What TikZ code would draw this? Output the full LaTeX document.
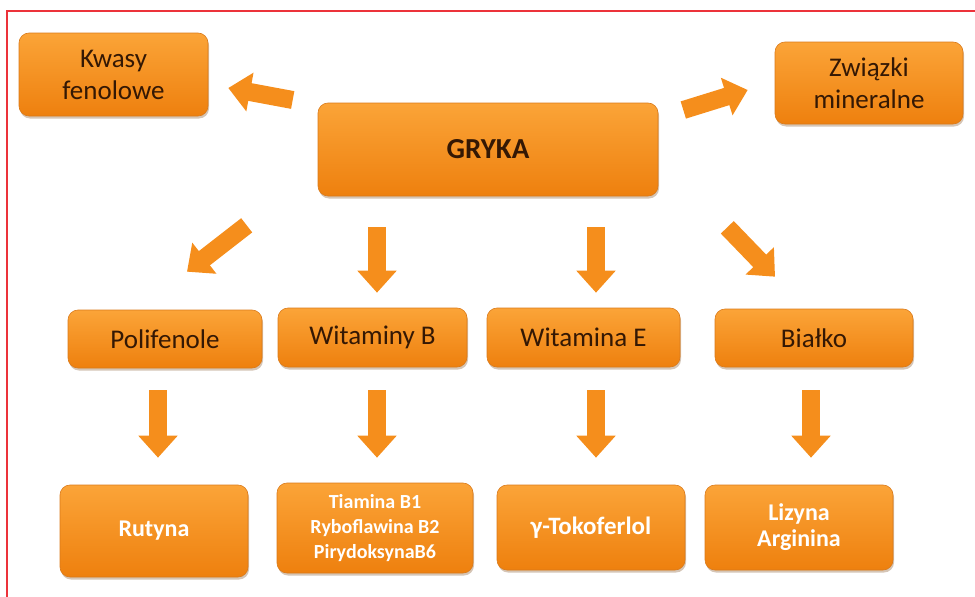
\documentclass[tikz,border=0pt]{standalone}
\usepackage{fontspec}
\setmainfont{Carlito}
\usetikzlibrary{arrows.meta,calc,shadows}

\definecolor{boxtop}{RGB}{251,164,56}
\definecolor{boxbot}{RGB}{238,128,14}
\definecolor{boxedge}{RGB}{218,122,26}
\definecolor{arrorange}{RGB}{245,142,28}
\definecolor{darktxt}{RGB}{52,24,4}
\definecolor{framered}{RGB}{236,50,58}

\tikzset{
  box/.style={rounded corners=10pt, top color=boxtop, bottom color=boxbot, draw=boxedge, line width=0.6pt,
    drop shadow={shadow xshift=1pt, shadow yshift=-2.5pt, opacity=0.35, fill=brown!70!black},
    align=center, inner sep=2pt},
  darkbox/.style={box, text=darktxt, font=\fontsize{27}{32}\selectfont},
  whitebox/.style={box, text=white, font=\bfseries\fontsize{24}{26}\selectfont},
  bigarrow/.style={draw=arrorange, line width=18pt, -{Triangle[width=38pt,length=22pt]}},
}

\begin{document}
\begin{tikzpicture}[x=1pt,y=1pt,yscale=-1,xscale=1]
\useasboundingbox (0,0) rectangle (975,597);

%Frame
\draw [framered, line width=2pt] (7,597) -- (7,11) -- (975,11);

% Top nodes
\node [darkbox, minimum width=189pt, minimum height=83pt] (kwasy) at (113.5,74.5) {Kwasy\\fenolowe};
\node [darkbox, minimum width=188pt, minimum height=82pt] (zwiazki) at (869,83) {Związki\\mineralne};
\node [darkbox, font=\bfseries\fontsize{29}{32}\selectfont, minimum width=340pt, minimum height=93pt] (gryka) at (488,149.5) {GRYKA};

% Middle row
\node [darkbox, minimum width=194pt, minimum height=58pt] (poli) at (165,339) {Polifenole};
\node [darkbox, minimum width=189pt, minimum height=59pt] (witb) at (372.5,337.5) {Witaminy B};
\node [darkbox, minimum width=193pt, minimum height=59pt] (wite) at (583.5,337.5) {Witamina E};
\node [darkbox, minimum width=198pt, minimum height=58pt] (bialko) at (814,338) {Białko};

% Bottom row
\node [whitebox, minimum width=188pt, minimum height=92pt] (rutyna) at (154,531) {Rutyna};
\node [whitebox, font=\bfseries\fontsize{20}{25}\selectfont, minimum width=196pt, minimum height=90pt] (tiamina) at (375,528) {Tiamina B1\\Ryboflawina B2\\PirydoksynaB6};
\node [whitebox, font=\bfseries\fontsize{25}{28}\selectfont, minimum width=188pt, minimum height=85pt] (tokof) at (591,527.5) {γ-Tokoferlol};
\node [whitebox, minimum width=188pt, minimum height=85pt] (lizyna) at (799,527.5) {Lizyna\\Arginina};

% Arrows from GRYKA
\draw [bigarrow] ($(gryka.west)+(-25,-49.5)$) -- ($(kwasy.east)+(20,13.5)$);
\draw [bigarrow] ($(gryka.east)+(25,-39.5)$) -- ($(zwiazki.west)+(-27,7)$);
\draw [bigarrow] ($(gryka.south west)+(-71,29)$) -- ($(poli.north)+(22,-38)$);
\draw [bigarrow] ($(gryka.south -| witb.north)+(4.5,31)$) -- ($(witb.north)+(4.5,-15)$);
\draw [bigarrow] ($(gryka.south -| wite.north)+(12.5,31)$) -- ($(wite.north)+(12.5,-15)$);
\draw [bigarrow] ($(gryka.south east)+(69,31)$) -- ($(bialko.north)+(-39,-32)$);

% Arrows to bottom row
\draw [bigarrow] ($(poli.south)+(-7,22)$) -- ($(rutyna.north)+(4,-27)$);
\draw [bigarrow] ($(witb.south)+(4.5,23)$) -- ($(tiamina.north)+(2,-25)$);
\draw [bigarrow] ($(wite.south)+(12.5,23)$) -- ($(tokof.north)+(5,-27)$);
\draw [bigarrow] ($(bialko.south)+(-3,23)$) -- ($(lizyna.north)+(12,-27)$);

\end{tikzpicture}
\end{document}
